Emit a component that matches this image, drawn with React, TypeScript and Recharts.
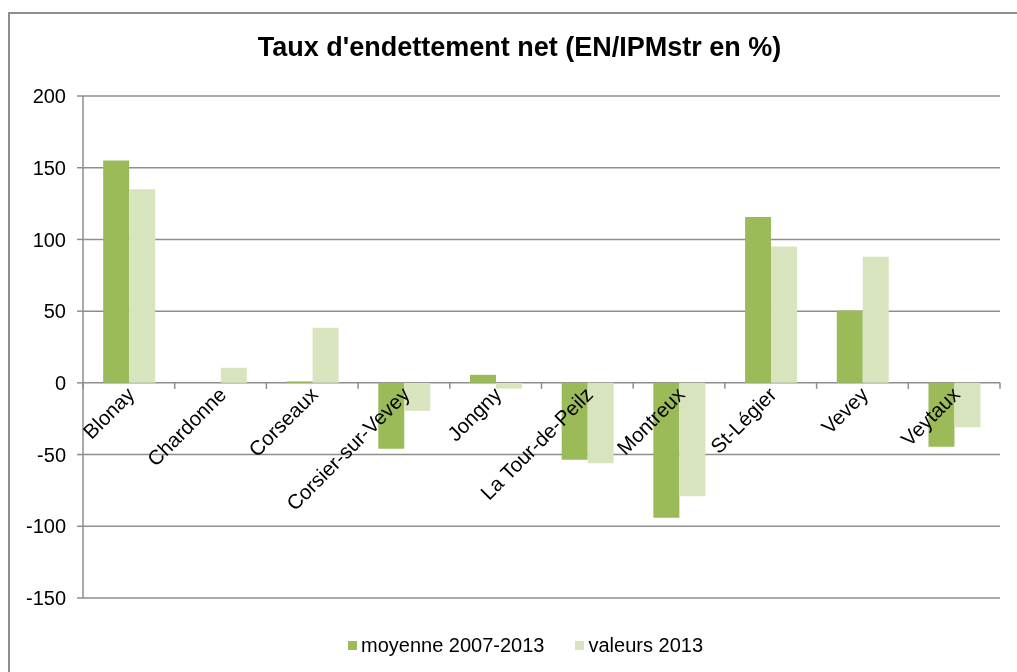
import { BarChart, Bar, XAxis, YAxis, CartesianGrid } from 'recharts'

const communes = [
  'Blonay',
  'Chardonne',
  'Corseaux',
  'Corsier-sur-Vevey',
  'Jongny',
  'La Tour-de-Peilz',
  'Montreux',
  'St-Légier',
  'Vevey',
  'Veytaux',
]
const moyenne = [155, 0, 1, -46, 5.6, -53.6, -94, 115.6, 50.4, -44.5]
const valeurs2013 = [135, 10.5, 38.5, -19.5, -4, -56, -79, 95, 88, -31]
const yTicks = [-150, -100, -50, 0, 50, 100, 150, 200]

const data = communes.map((name, i) => ({ name, moyenne: moyenne[i], valeurs: valeurs2013[i] }))

const W = 1001
const H = 656
const M = { top: 88, right: 9, bottom: 65, left: 15 }
const Y_W = 60
const PLOT_W = W - M.left - M.right - Y_W
const PLOT_H = H - M.top - M.bottom - 1
const Y_MIN = -150
const Y_MAX = 200
const GRID = '#8e8e8e'
const FONT = '"Liberation Sans", Arial, sans-serif'

// labels sit under the zero line, like Excel's crossing category axis
const CategoryTick = (props: any) => {
  const { x, y, payload, index } = props
  const zeroY = y - (PLOT_H * (0 - Y_MIN)) / (Y_MAX - Y_MIN)
  const band = PLOT_W / communes.length
  const lx = x + 7
  const ly = zeroY + 13
  return (
    <g>
      <line x1={x - band / 2} y1={zeroY} x2={x - band / 2} y2={zeroY + 6} stroke={GRID} strokeWidth={1.5} />
      {index === communes.length - 1 && (
        <line x1={x + band / 2} y1={zeroY} x2={x + band / 2} y2={zeroY + 6} stroke={GRID} strokeWidth={1.5} />
      )}
      <text
        x={lx}
        y={ly}
        textAnchor="end"
        transform={`rotate(-45 ${lx} ${ly})`}
        fontSize={20.5}
        fontFamily={FONT}
        fill="#000"
      >
        {payload.value}
      </text>
    </g>
  )
}

export default function App() {
  return (
    <div style={{ position: 'relative', width: W, height: H }}>
      <div
        style={{
          position: 'fixed',
          left: 8,
          top: 12,
          width: 1100,
          height: 800,
          borderLeft: `2px solid ${GRID}`,
          borderTop: `2px solid ${GRID}`,
          boxSizing: 'border-box',
          pointerEvents: 'none',
        }}
      />
      <div
        style={{
          position: 'absolute',
          left: 0,
          top: 24,
          width: 1023,
          textAlign: 'center',
          fontFamily: FONT,
          fontWeight: 'bold',
          fontSize: 27,
        }}
      >
        Taux d'endettement net (EN/IPMstr en %)
      </div>
      <div style={{ position: 'absolute', top: 0, left: 0 }}>
        <BarChart width={W} height={H} data={data} margin={M} barCategoryGap="22%" barGap={0}>
          <CartesianGrid vertical={false} stroke={GRID} strokeWidth={1.5} />
          <XAxis
            dataKey="name"
            height={1}
            axisLine={false}
            tickLine={false}
            tickSize={0}
            tickMargin={0}
            interval={0}
            tick={<CategoryTick />}
          />
          <YAxis
            width={Y_W}
            domain={[Y_MIN, Y_MAX]}
            ticks={yTicks}
            interval={0}
            axisLine={{ stroke: GRID, strokeWidth: 1.5 }}
            tickLine={{ stroke: GRID, strokeWidth: 1.5 }}
            tickSize={6}
            tickMargin={11}
            tick={{ fontSize: 20, fontFamily: FONT, fill: '#000' }}
          />
          <Bar dataKey="moyenne" fill="#9bbb59" isAnimationActive={false} />
          <Bar dataKey="valeurs" fill="#d7e4bd" isAnimationActive={false} />
        </BarChart>
      </div>
      <div
        style={{
          position: 'absolute',
          top: 626,
          left: 340,
          display: 'flex',
          alignItems: 'center',
          fontFamily: FONT,
          fontSize: 20,
        }}
      >
        <span style={{ width: 9, height: 9, background: '#9bbb59', marginRight: 4 }} />
        <span style={{ marginRight: 31 }}>moyenne 2007-2013</span>
        <span style={{ width: 9, height: 9, background: '#d7e4bd', marginRight: 4 }} />
        <span>valeurs 2013</span>
      </div>
    </div>
  )
}
